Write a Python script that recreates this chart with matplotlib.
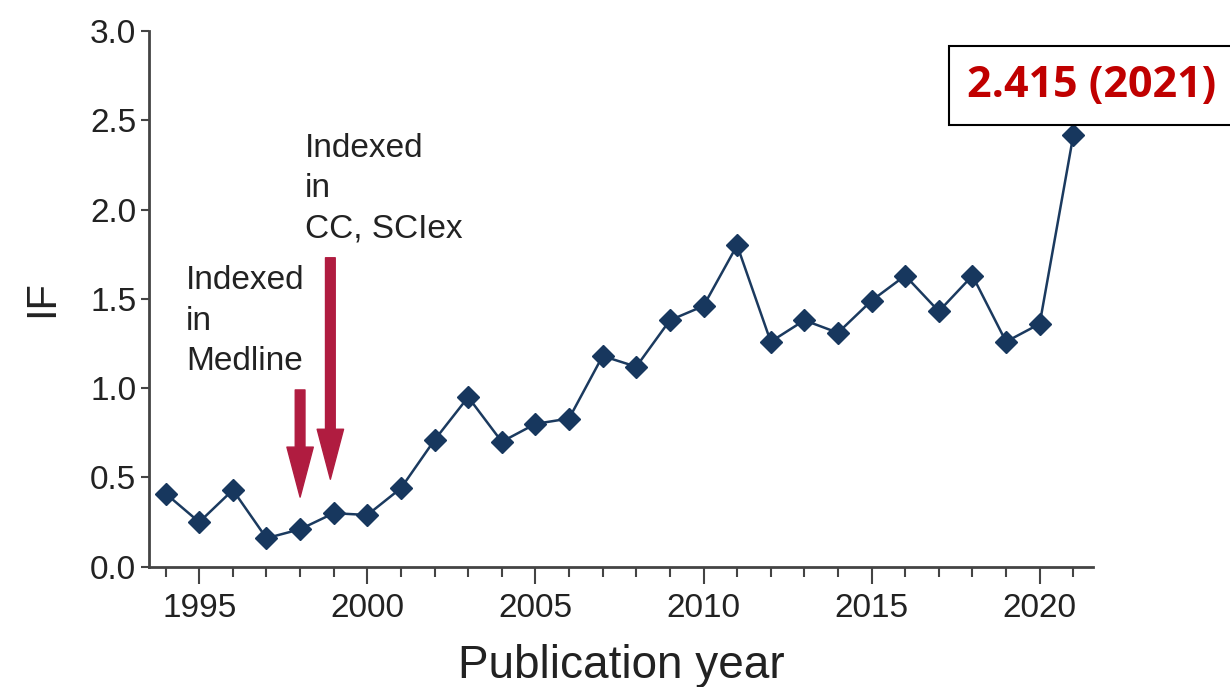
import matplotlib
matplotlib.use('Agg')
import matplotlib.pyplot as plt
from matplotlib.ticker import MultipleLocator, FormatStrFormatter

plt.rcParams['font.family'] = ['Liberation Sans', 'DejaVu Sans']

# impact factor by year
years = list(range(1994, 2022))
impact = [0.41, 0.25, 0.43, 0.16, 0.21, 0.30, 0.29, 0.44, 0.71, 0.95,
          0.70, 0.80, 0.83, 1.18, 1.12, 1.38, 1.46, 1.80, 1.26, 1.38,
          1.31, 1.49, 1.63, 1.43, 1.63, 1.26, 1.36, 2.415]

notes = ['Indexed\nin\nMedline', 'Indexed\nin\nCC, SCIex']
note_years = [1998, 1999]
highlight = '2.415 (2021)'

fig = plt.figure(figsize=(12.3, 6.87), dpi=100)
ax = fig.add_axes([0.121, 0.175, 0.768, 0.78])

ax.plot(years, impact, color='#1b3a5f', lw=1.8, marker='D', ms=11,
        markerfacecolor='#17375e', markeredgecolor='#17375e')

ax.set_xlim(1993.5, 2021.6)
ax.set_ylim(0, 3.0)
ax.xaxis.set_major_locator(MultipleLocator(5))
ax.xaxis.set_minor_locator(MultipleLocator(1))
ax.yaxis.set_major_locator(MultipleLocator(0.5))
ax.yaxis.set_major_formatter(FormatStrFormatter('%.1f'))

for s in ['top', 'right']:
    ax.spines[s].set_visible(False)
for s in ['left', 'bottom']:
    ax.spines[s].set_color('#444444')
    ax.spines[s].set_linewidth(2)

ax.tick_params(axis='both', which='both', direction='out', colors='#444444',
               labelcolor='#222222', labelsize=24, width=1.5)
ax.tick_params(axis='x', which='major', length=12, pad=7)
ax.tick_params(axis='x', which='minor', length=7)
ax.tick_params(axis='y', which='major', length=6, pad=3)

ax.set_xlabel('Publication year', fontsize=33, color='#222222', labelpad=14)
ax.set_ylabel('IF', fontsize=30, color='#222222', labelpad=20)

# arrows marking indexing events
arrow_c = '#b01c40'
ax.annotate('', xy=(note_years[0], 0.39), xytext=(note_years[0], 0.99),
            arrowprops=dict(width=7, headwidth=19, headlength=36,
                            shrink=0, color=arrow_c))
ax.annotate('', xy=(note_years[1] - 0.1, 0.49), xytext=(note_years[1] - 0.1, 1.73),
            arrowprops=dict(width=7, headwidth=19, headlength=36,
                            shrink=0, color=arrow_c))

ax.text(1994.6, 1.69, notes[0], fontsize=24, color='#222222', va='top',
        ha='left', linespacing=1.4)
ax.text(1998.15, 2.43, notes[1], fontsize=24, color='#222222', va='top',
        ha='left', linespacing=1.4)

fig.text(0.786, 0.876, highlight, fontsize=31, fontweight='bold',
         family=['Open Sans', 'DejaVu Sans'], color='#c00000', ha='left',
         va='center',
         bbox=dict(boxstyle='square,pad=0.42', facecolor='white',
                   edgecolor='black', linewidth=1.5))

fig.savefig('out.png', dpi=100)
